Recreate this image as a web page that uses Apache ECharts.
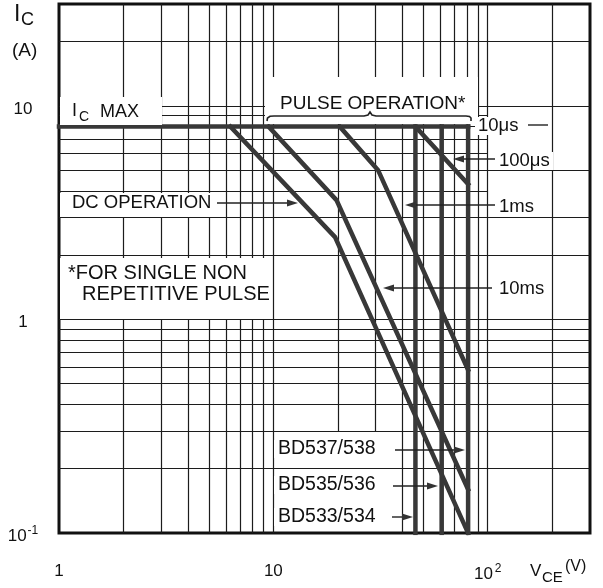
<!DOCTYPE html>
<html>
<head>
<meta charset="utf-8">
<script src="https://cdn.jsdelivr.net/npm/echarts@6/dist/echarts.min.js"></script>
<style>
  html, body { margin: 0; padding: 0; background: #fff; }
  #chart { width: 603px; height: 588px; }
</style>
</head>
<body>
<div id="chart"></div>
<script>
// axes (log-log)
const xMin = 1, xMax = 300;
const yMin = 0.1, yMax = 30;
const xTickVals = [1, 10, 100];
const xTickText = ['1', '10', '{b|10}{s|2}'];
const yTickVals = [0.1, 1, 10];
const yTickText = ['{b|10}{s|-1}', '1', '10'];
// grid lines
const xGridVals = [2, 3, 4, 5, 6, 7, 8, 9, 10, 40, 50, 60, 70, 80, 90, 100, 200];
const xGridShort = [20, 30];            // stop at 0.3 A (label area below)
const yGridVals = [0.2, 0.3, 0.4, 0.5, 0.6, 0.7, 0.8, 0.9, 1, 2, 3, 5, 10, 20];
const yGridShort = [4, 6, 7, 8, 9];     // stop at 100 V

// safe operating area curves (V_CE in V, I_C in A)
const icMaxV = [1, 81];
const icMaxI = [8, 8];
const dcV = [6.3, 19.4, 81];
const dcI = [8, 2.43, 0.1];
const ms10V = [9.5, 19.7, 81];
const ms10I = [8, 3.62, 0.16];
const ms1V = [20.4, 30.8, 81];
const ms1I = [8, 5.0, 0.58];
const us100V = [46, 81];
const us100I = [8, 4.3];
// V_CEO limits: BD533/534, BD535/536, BD537/538
const vceoV = [46, 61, 81];
const vceoI = [8, 0.1];

const INK = '#1c1c1c';
const THICK = '#383838';
const FONT = '"Liberation Sans", Arial, sans-serif';

const zip = (xs, ys) => xs.map((x, i) => [x, ys[i]]);
const seg = (a, b) => [{ coord: a }, { coord: b }];

const gridLines = []
  .concat(xGridVals.map(v => seg([v, yMin], [v, yMax])))
  .concat(xGridShort.map(v => seg([v, 0.3], [v, yMax])))
  .concat(yGridVals.map(v => seg([xMin, v], [xMax, v])))
  .concat(yGridShort.map(v => seg([xMin, v], [100, v])));

const curve = (name, pts) => ({
  name: name,
  type: 'line',
  data: pts,
  symbol: 'none',
  z: 5,
  silent: true,
  lineStyle: { color: THICK, width: 4.5, cap: 'square', join: 'miter' },
  animation: false
});

const series = [
  {
    name: 'grid',
    type: 'line',
    data: [],
    z: 1,
    silent: true,
    markLine: {
      silent: true,
      symbol: ['none', 'none'],
      label: { show: false },
      animation: false,
      lineStyle: { type: 'solid', color: INK, width: 1.2 },
      data: gridLines
    }
  },
  curve('IC max', zip(icMaxV, icMaxI)),
  curve('DC', zip(dcV, dcI)),
  curve('10ms', zip(ms10V, ms10I)),
  curve('1ms', zip(ms1V, ms1I)),
  curve('100us', zip(us100V, us100I))
];
vceoV.forEach((v, i) => series.push(curve('vceo' + i, [[v, vceoI[0]], [v, vceoI[1]]])));

// annotation helpers (pixel space)
const txt = (text, x, y, size) => ({
  type: 'text', z: 20, silent: true,
  style: { text: text, x: x, y: y, fill: '#111', font: size + 'px ' + FONT, textVerticalAlign: 'middle' }
});
const box = (x, y, w, h) => ({
  type: 'rect', z: 10, silent: true,
  shape: { x: x, y: y, width: w, height: h },
  style: { fill: '#fff' }
});
const lead = (x1, y, x2) => ({
  type: 'line', z: 21, silent: true,
  shape: { x1: x1, y1: y, x2: x2, y2: y }, style: { stroke: '#222', lineWidth: 1.4 }
});
const arrow = (x1, y, x2) => {
  const d = x2 > x1 ? 1 : -1;
  return [
    lead(x1, y, x2 - d * 6),
    { type: 'polygon', z: 21, silent: true, shape: { points: [[x2, y], [x2 - d * 11, y - 3.5], [x2 - d * 11, y + 3.5]] }, style: { fill: '#333' } }
  ];
};

const graphics = [
  box(60, 97, 102, 28),
  box(265, 77, 213, 47),
  box(60, 193, 156, 24),
  box(60, 258, 211, 61),
  box(475, 117, 50, 18),
  box(497, 152, 56, 18),
  box(497, 198, 40, 18),
  box(497, 280, 50, 18),
  box(274, 440, 106, 18),
  box(274, 476, 110, 18),
  box(274, 508, 112, 18),

  txt('I', 14, 15, 23),
  txt('C', 21, 20, 18),
  txt('(A)', 12, 51, 19),

  txt('I', 72, 111, 18),
  txt('C', 79, 117, 14),
  txt('MAX', 100, 112, 18),

  txt('PULSE OPERATION*', 280, 104, 19),
  {
    type: 'polyline', z: 21, silent: true,
    shape: { points: [[267, 121], [267.5, 118], [270, 116.3], [274, 116], [364, 116], [368, 115], [370, 112], [372, 115], [376, 116], [466, 116], [469.5, 116.5], [471, 118], [471, 121]] },
    style: { stroke: '#222', lineWidth: 1.6, fill: null }
  },

  txt('10\u03bcs', 478, 126, 18.5),
  lead(528, 125, 548),
  txt('100\u03bcs', 499, 161, 18.5),
  txt('1ms', 499, 207, 18.5),
  txt('10ms', 499, 289, 18.5),

  txt('DC OPERATION', 72, 203, 18.5),
  txt('*FOR SINGLE NON', 68, 273, 20),
  txt('REPETITIVE PULSE', 82, 294, 20),

  txt('BD537/538', 278, 449, 19.5),
  txt('BD535/536', 278, 485, 19.5),
  txt('BD533/534', 278, 517, 19.5),

  txt('V', 530, 571, 17),
  txt('CE', 542, 578, 15),
  txt('(V)', 565, 567, 16)
]
  .concat(arrow(217, 203, 298))
  .concat(arrow(495, 159, 453))
  .concat(arrow(495, 205, 405))
  .concat(arrow(492, 288, 383))
  .concat(arrow(395, 450, 465))
  .concat(arrow(393, 486, 438))
  .concat(arrow(392, 517, 413));

const pick = (vals, texts) => v => {
  for (let i = 0; i < vals.length; i++) {
    if (Math.abs(Math.log10(v) - Math.log10(vals[i])) < 1e-6) return texts[i];
  }
  return '';
};

const chart = echarts.init(document.getElementById('chart'));
chart.setOption({
  animation: false,
  backgroundColor: '#fff',
  grid: {
    left: 59, right: 13, top: 4, bottom: 55,
    show: true, borderColor: '#111', borderWidth: 3, backgroundColor: 'transparent'
  },
  xAxis: {
    type: 'log', logBase: 10, min: xMin, max: xMax,
    axisLine: { show: false }, axisTick: { show: false }, splitLine: { show: false },
    axisLabel: {
      margin: 30, color: '#111', fontFamily: FONT, fontSize: 17,
      showMinLabel: true, showMaxLabel: true,
      formatter: pick(xTickVals, xTickText),
      rich: { b: { fontSize: 17, fontFamily: FONT, color: '#111' }, s: { fontSize: 12, fontFamily: FONT, color: '#111', padding: [0, 0, 10, 2] } }
    }
  },
  yAxis: {
    type: 'log', logBase: 10, min: yMin, max: yMax,
    axisLine: { show: false }, axisTick: { show: false }, splitLine: { show: false },
    axisLabel: {
      margin: 36, align: 'center', color: '#111', fontFamily: FONT, fontSize: 17,
      padding: [6, 0, 0, 0],
      showMinLabel: true, showMaxLabel: true,
      formatter: pick(yTickVals, yTickText),
      rich: { b: { fontSize: 17, fontFamily: FONT, color: '#111' }, s: { fontSize: 12, fontFamily: FONT, color: '#111', padding: [0, 0, 10, 1] } }
    }
  },
  series: series,
  graphic: graphics
});
</script>
</body>
</html>
